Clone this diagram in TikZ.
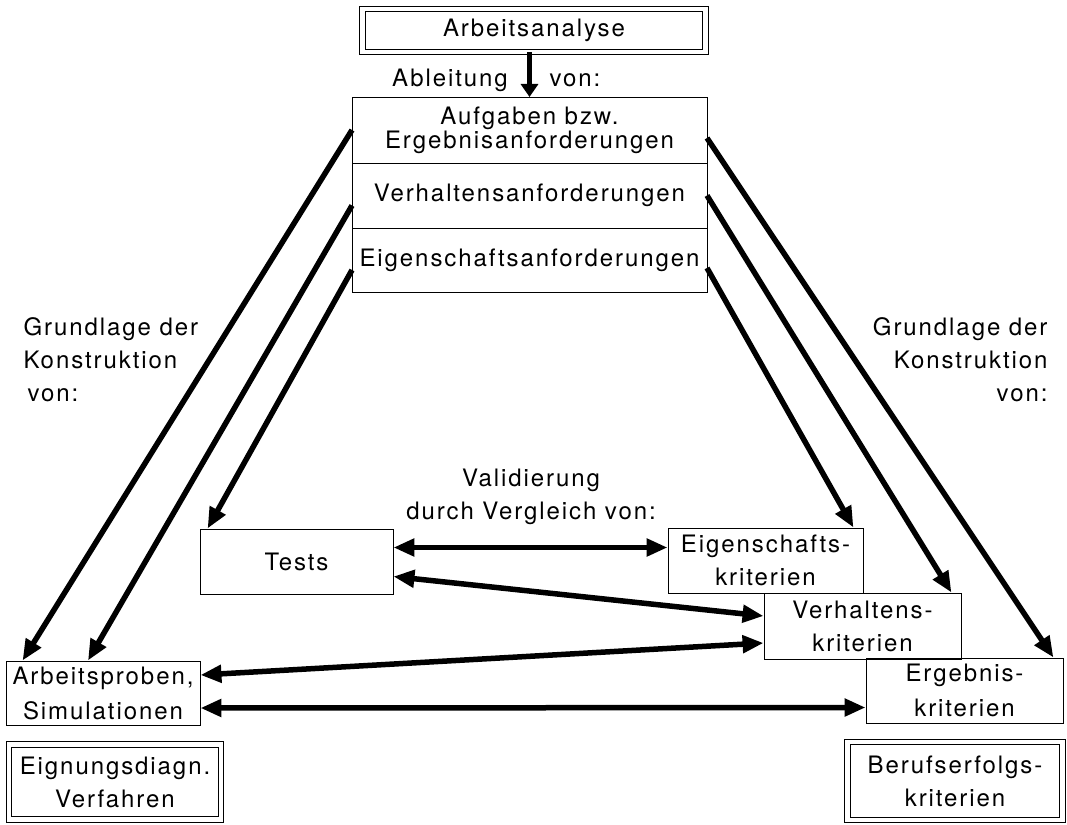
\documentclass[tikz,border=0pt]{standalone}
\usepackage{fontspec}
\setmainfont{TeX Gyre Heros}[LetterSpace=8]
\usetikzlibrary{arrows.meta, calc, positioning}

\begin{document}
\begin{tikzpicture}[
  x=1pt, y=-1pt,
  every node/.style = {font=\fontsize{24}{33}\selectfont},
  reqbox/.style    = {draw=black, line width=0.9pt, outer sep=0pt,
                       align=center, inner sep=0pt, minimum width=355pt},
  kbox/.style      = {draw=black, line width=0.9pt, align=center,
                       inner sep=0pt, minimum width=196pt, minimum height=65pt},
  dbox/.style      = {draw=black, line width=0.9pt, double,
                       double distance=4.5pt, align=center, inner sep=0pt},
  link/.style      = {-{Triangle[length=21pt, width=17pt]}, line width=5.5pt},
  twoway/.style    = {{Triangle[length=21pt, width=17pt]}-{Triangle[length=21pt, width=17pt]},
                       line width=5.5pt},
  drop/.style      = {-{Triangle[length=13pt, width=17pt]}, line width=5pt},
]
  \useasboundingbox (0,0) rectangle (1067,824);

  % ------------------------------------------------------------- analysis
  \node[dbox, minimum width=343pt, minimum height=43pt] (analyse) at (534,30.5) {Arbeitsanalyse};
  \node (abl) at (450,80) {Ableitung};
  \node (von) at (575,80) {von:};

  % --------------------------------------------------------- requirements
  \node[reqbox, minimum height=66pt] (aufg) at (529.5,130)
        {Aufgaben bzw.\\[-9pt]Ergebnisanforderungen};
  \node[reqbox, minimum height=65pt, below=0pt of aufg] (verh) {Verhaltensanforderungen};
  \node[reqbox, minimum height=64pt, below=0pt of verh] (eig)  {Eigenschaftsanforderungen};

  \draw[drop] (aufg.north |- analyse.south) -- (aufg.north);

  % ------------------------------------------------------------- labels
  \node[align=left, anchor=west]  (gl) at (20,360)   {Grundlage der\\Konstruktion\\\,von:};
  \node[align=right, anchor=east] (gr) at (1051,360) {Grundlage der\\Konstruktion\\von:};
  \node[align=center] (valid) at (531,497) {Validierung\\durch Vergleich von:};

  % ---------------------------------------------------- tests and criteria
  \node[kbox, minimum width=193pt] (tests) at (296.5,561.5) {Tests};
  \node[kbox, minimum width=195pt] (eigk)  at (765.5,560.5) {Eigenschafts-\\kriterien};
  \node[kbox, minimum width=197pt, minimum height=66pt] (verhk) at (862.5,626) {Verhaltens-\\kriterien};
  \node[kbox, minimum width=197pt] (ergk)  at (964.5,690.5) {Ergebnis-\\[2pt]kriterien};
  \node[kbox, minimum width=194pt, minimum height=64pt] (arbp) at (103,693)
        {Arbeitsproben,\\[2pt]Simulationen};

  % ------------------------------------------------------------- groups
  \node[dbox, minimum width=212pt, minimum height=75pt] (eign)  at (115,782) {Eignungsdiagn.\\Verfahren};
  \node[dbox, minimum width=215pt, minimum height=78pt] (beruf) at (955,781) {Berufserfolgs-\\kriterien};

  % ------------------------------------------------------- construction
  \draw[link] (aufg.west) -- ([xshift=17pt]arbp.north west);
  \draw[link] ([yshift=-10pt]verh.west) -- ([xshift=-15pt]arbp.north);
  \draw[link] ([yshift=-10pt]eig.west) -- ([xshift=8pt]tests.north west);
  \draw[link] ([yshift=-8pt]aufg.east) -- ([xshift=-10pt]ergk.north east);
  \draw[link] (verh.east) -- ([xshift=-10pt]verhk.north east);
  \draw[link] ([yshift=-8pt]eig.east) -- ([xshift=-10pt]eigk.north east);

  % ---------------------------------------------------------- validation
  \draw[twoway] ([yshift=14pt]tests.east) -- ([yshift=13pt]eigk.west);
  \draw[twoway] ([yshift=-15pt]tests.east) -- ([yshift=10pt]verhk.west);
  \draw[twoway] ([yshift=18pt]arbp.east) -- ([yshift=-17pt]verhk.west);
  \draw[twoway] ([yshift=-15pt]arbp.east) -- ([yshift=-17pt]ergk.west);

\end{tikzpicture}
\end{document}
